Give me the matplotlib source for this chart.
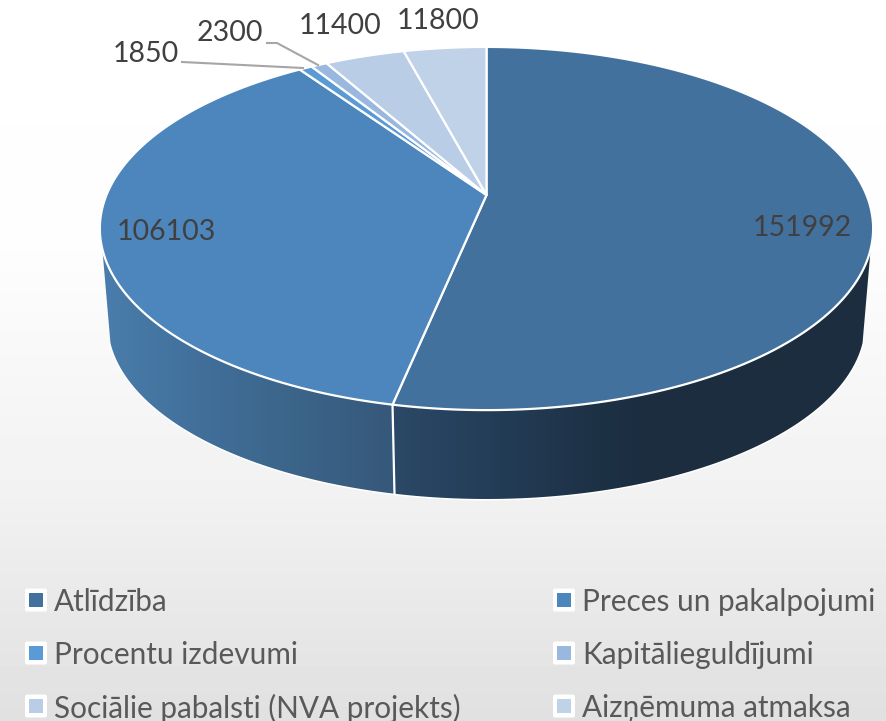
import numpy as np
import matplotlib
matplotlib.use('Agg')
import matplotlib.pyplot as plt
from matplotlib.colors import to_rgb
from matplotlib.patches import FancyBboxPatch, Polygon, Rectangle

categories = ['Atlīdzība', 'Preces un pakalpojumi', 'Procentu izdevumi',
              'Kapitālieguldījumi', 'Sociālie pabalsti (NVA projekts)', 'Aizņēmuma atmaksa']
values = [151992, 106103, 1850, 2300, 11400, 11800]
top_colors = ['#43719e', '#4d86bc', '#5b9bd5', '#9ab8df', '#b9cde6', '#c0d2e8']
value_labels = [str(v) for v in values]

W, H = 887, 721
CX, K = 486.5, 0.1846


def project(theta, a, b, cy):
    # theta clockwise from the top, perspective view of a circle
    x, y = np.sin(theta), np.cos(theta)
    d = 1 + K * y
    return CX + a * x / d, cy - b * y / d


def top(theta):
    return project(theta, 380, 175.4, 195)


def bottom(theta):
    return project(theta, 372, 170, 290.5)


def side_gradient(i):
    if i == 0:
        stops = [395, 500, 600, 660], ['#2b4866', '#233c56', '#1d3145', '#1b2d3f']
    else:
        stops = [105, 200, 300, 393], ['#4a7dab', '#416f9a', '#3b6488', '#36587a']
    rgb = np.array([to_rgb(c) for c in stops[1]])
    xs = np.arange(W)
    return np.stack([np.interp(xs, stops[0], rgb[:, k]) for k in range(3)], axis=1)[None, :, :]


fig = plt.figure(figsize=(W / 100, H / 100), dpi=100)
ax = fig.add_axes([0, 0, 1, 1])

# background gradient
ys = np.arange(H)
grey = np.interp(ys, [0, 250, 500, 560, 721], [255, 253, 241, 236, 224]) / 255
ax.imshow(grey[:, None], cmap='gray', vmin=0, vmax=1, extent=[0, W, H, 0], aspect='auto', zorder=0)

edges = np.concatenate([[0], np.cumsum(values)]) / np.sum(values) * 2 * np.pi

# side of the pie, only the two big slices can be seen from the front
bt = np.radians(np.linspace(107, 253, 600))
bx, by = bottom(bt)
ax.plot(bx, by, color='white', lw=2.2, zorder=1)
spans = [(np.radians(107), edges[1]), (edges[1], np.radians(253))]
for i, (a0, a1) in enumerate(spans):
    th = np.linspace(a0, a1, 400)
    tx, ty = top(th)
    ux, uy = bottom(th)
    outline = Polygon(np.c_[np.r_[tx, ux[::-1]], np.r_[ty, uy[::-1]]], closed=True,
                      facecolor='none', edgecolor='none', transform=ax.transData)
    ax.add_patch(outline)
    im = ax.imshow(side_gradient(i), extent=[0, W, H, 0], aspect='auto', zorder=2)
    im.set_clip_path(outline)

# white seam between the two big slices on the side
sx, sy = top(edges[1])
ex, ey = bottom(edges[1])
ax.plot([sx, ex], [sy, ey], color='white', lw=1.6, zorder=3)

# top of the pie
for i in range(len(values)):
    th = np.linspace(edges[i], edges[i + 1], 300)
    tx, ty = top(th)
    ax.fill(np.r_[CX, tx], np.r_[195, ty], facecolor=top_colors[i], edgecolor='white',
            lw=1.6, joinstyle='round', zorder=4)

# value labels
label_pos = [(802, 228), (166, 232), (146, 54), (230, 33), (340, 26), (438, 21)]
for txt, (x, y) in zip(value_labels, label_pos):
    ax.text(x, y, txt, family='Lato', fontsize=20.5, color='#404040', ha='center', va='center', zorder=6)

# leader lines
ax.plot([182, 303], [62, 68], color='#a6a6a6', lw=1.5, zorder=5)
ax.plot([267, 277, 318], [43, 43, 65], color='#a6a6a6', lw=1.5, zorder=5)

# legend
rows = [600, 653, 706]
cols_x = [(25, 54), (553, 582)]
for n, name in enumerate(categories):
    bx0, tx0 = cols_x[n % 2]
    cy = rows[n // 2]
    ax.add_patch(FancyBboxPatch((bx0 + 2, cy - 9.5), 18, 19, boxstyle='round,pad=2',
                                facecolor='white', edgecolor='none', zorder=5))
    ax.add_patch(Rectangle((bx0 + 4, cy - 7), 14, 14, facecolor=top_colors[n], edgecolor='none', zorder=6))
    ax.text(tx0, cy + 2, name, family='Lato', fontsize=21.4, color='#595959', ha='left', va='center', zorder=6)

ax.set_xlim(0, W)
ax.set_ylim(H, 0)
ax.axis('off')
fig.savefig('out.png', dpi=100)
